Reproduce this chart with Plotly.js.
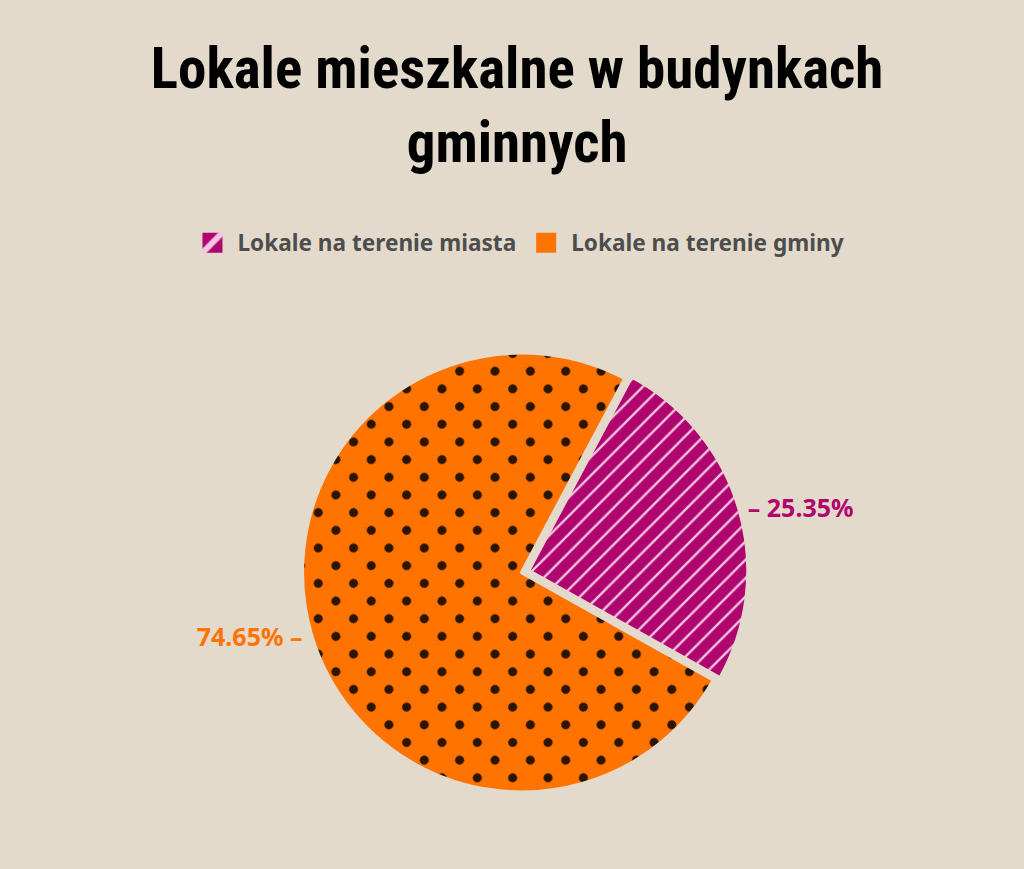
<!DOCTYPE html>
<html>
<head>
    <meta charset='utf-8'>
    <title>Lokale mieszkalne w budynkach gminnych</title>
    <script src="https://cdn.plot.ly/plotly-3.0.1.min.js"></script>
    <style>
        body { margin:0; background:#e3dacb; }
    </style>
</head>
<body>
    <div style="width:1024px;height:869px" id="chartDiv"></div>

    <script>
        const labels = ["Lokale na terenie miasta", "Lokale na terenie gminy"];
        const values = [25.35, 74.65];
        const sliceColors = ["#b0046e", "#ff7300"];
        const labelTemplates = ["– %{percent:.2%}", "%{percent:.2%} –"];

        const chartDiv = document.getElementById("chartDiv");
        const bg = "#e3dacb";

        const pieTrace = {
            type : 'pie',
            labels : labels,
            values : values,
            sort : false,
            direction : 'clockwise',
            rotation : 28,
            pull : [0.03, 0],
            textposition : 'outside',
            texttemplate : labelTemplates,
            hoverinfo : 'label+percent',
            outsidetextfont : {
                family : '"Noto Sans", sans-serif',
                size : 25,
                color : sliceColors,
                weight : 'bold'
            },
            marker : {
                colors : sliceColors,
                line : { color : bg, width : 4 },
                pattern : {
                    shape : ['/', '.'],
                    fgcolor : ['#f4c6e4', '#2b1400'],
                    bgcolor : sliceColors,
                    size : [13, 25],
                    solidity : [0.18, 0.1],
                    fillmode : 'replace'
                }
            },
            domain : { x : [0, 1], y : [0, 1] }
        };

        const layout = {
            width : 1024,
            height : 869,
            paper_bgcolor : bg,
            plot_bgcolor : bg,
            margin : { t : 346, b : 70, l : 170, r : 150 },
            title : {
                text : 'Lokale mieszkalne w budynkach<br>gminnych',
                font : { family : '"Roboto Condensed", "DejaVu Sans Condensed", sans-serif', size : 57, color : '#000000', weight : 'bold' },
                x : 0.505,
                xanchor : 'center',
                y : 0.899,
                yanchor : 'top',
                yref : 'container'
            },
            showlegend : true,
            legend : {
                orientation : 'h',
                x : 0.495,
                xanchor : 'center',
                y : 0.7204,
                yref : 'container',
                yanchor : 'middle',
                itemwidth : 40,
                font : { family : '"Noto Sans", sans-serif', size : 22.6, color : '#4d4d4d', weight : 'bold' },
                traceorder : 'normal'
            }
        };

        const fontsReady = Promise.all([
            document.fonts.load('bold 22px "Noto Sans"'),
            document.fonts.load('bold 57px "Roboto Condensed"')
        ]).catch(() => null);

        fontsReady.then(() => Plotly.newPlot(chartDiv, [pieTrace], layout, { displayModeBar : false, staticPlot : true })).then(() => {
            // turn the square dot grid into a staggered one
            chartDiv.querySelectorAll('pattern').forEach(p => {
                if (p.querySelector('circle')) {
                    p.setAttribute('patternTransform', 'rotate(45)');
                }
            });
            // bigger legend swatches
            chartDiv.querySelectorAll('.legendpoints path').forEach(p => {
                const t = p.getAttribute('transform') || '';
                p.setAttribute('transform', t + ' scale(2.5)');
            });
        });
    </script>
</body>
</html>
